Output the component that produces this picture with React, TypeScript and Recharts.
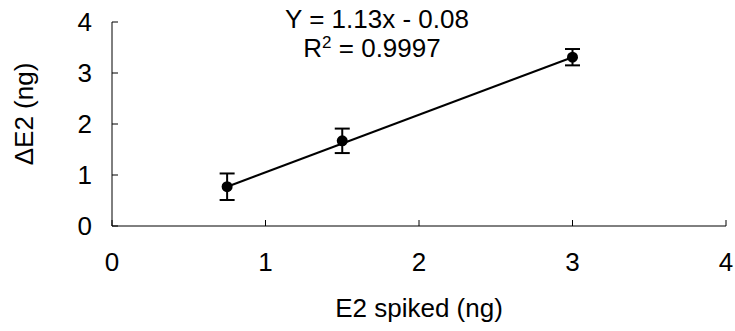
import { ComposedChart, Scatter, ErrorBar, XAxis, YAxis } from 'recharts';

const spiked = [0.75, 1.5, 3];
const measured = [0.77, 1.67, 3.31];
const errors = [0.26, 0.24, 0.16];
const fitX = [0.75, 3];
const fitY = [0.77, 3.31];
const xTicks = [0, 1, 2, 3, 4];
const yTicks = [0, 1, 2, 3, 4];

const points = spiked.map((x, i) => ({ x, y: measured[i], err: errors[i] }));
const fit = fitX.map((x, i) => ({ x, y: fitY[i] }));

const font = '"Liberation Sans", Arial, sans-serif';
const fs = 26;

export default function App() {
  return (
    <div style={{ position: 'fixed', left: 0, top: 0, width: 735, height: 331, fontFamily: font, background: '#fff' }}>
      <ComposedChart width={735} height={331} margin={{ top: 22, right: 9, left: 0, bottom: 0 }}>
        <XAxis
          type="number"
          dataKey="x"
          domain={[0, 4]}
          ticks={xTicks}
          height={105}
          stroke="#000"
          tickSize={-6}
          tickMargin={33}
          tick={{ fill: '#000', fontSize: fs, fontFamily: font }}
          label={{
            content: (p: any) => (
              <text
                x={p.viewBox.x + p.viewBox.width / 2}
                y={p.viewBox.y + 91}
                textAnchor="middle"
                fontSize={fs}
                fontFamily={font}
                fill="#000"
              >
                E2 spiked (ng)
              </text>
            ),
          }}
        />
        <YAxis
          type="number"
          dataKey="y"
          domain={[0, 4]}
          ticks={yTicks}
          width={112}
          stroke="#000"
          tickSize={-6}
          tickMargin={26}
          tick={{ fill: '#000', fontSize: fs, fontFamily: font }}
          label={{
            content: (p: any) => {
              const cx = p.viewBox.x + 24;
              const cy = p.viewBox.y + p.viewBox.height / 2 - 10;
              return (
                <text
                  x={cx}
                  y={cy}
                  dy={9}
                  transform={`rotate(-90, ${cx}, ${cy})`}
                  textAnchor="middle"
                  fontSize={fs}
                  fontFamily={font}
                  fill="#000"
                >
                  ΔE2 (ng)
                </text>
              );
            },
          }}
        />
        <Scatter
          data={fit}
          line={{ stroke: '#000', strokeWidth: 2 }}
          shape={() => <g />}
          isAnimationActive={false}
        />
        <Scatter
          data={points}
          fill="#000"
          shape={(p: any) => <circle cx={p.cx} cy={p.cy} r={5.5} fill="#000" />}
          isAnimationActive={false}
        >
          <ErrorBar dataKey="err" direction="y" width={7.5} stroke="#000" strokeWidth={2} />
        </Scatter>
      </ComposedChart>
      <div
        style={{
          position: 'absolute',
          left: 377,
          top: 6,
          transform: 'translateX(-50%)',
          fontSize: fs,
          lineHeight: `${fs}px`,
          whiteSpace: 'nowrap',
        }}
      >
        Y = 1.13x - 0.08
      </div>
      <div
        style={{
          position: 'absolute',
          left: 372,
          top: 35,
          transform: 'translateX(-50%)',
          fontSize: fs,
          lineHeight: `${fs}px`,
          whiteSpace: 'nowrap',
        }}
      >
        R<sup style={{ fontSize: 17, lineHeight: 0, verticalAlign: 9 }}>2</sup> = 0.9997
      </div>
    </div>
  );
}
